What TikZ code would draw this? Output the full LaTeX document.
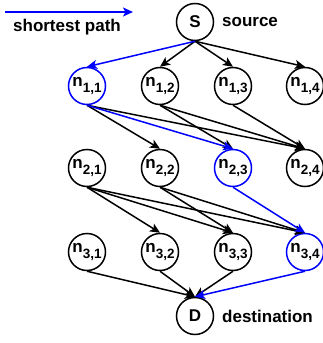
\documentclass[tikz,border=0pt]{standalone}
\usepackage{fontspec}
\setmainfont{Liberation Sans}
\usetikzlibrary{arrows.meta}
\definecolor{pathblue}{RGB}{0,0,255}
\newcommand{\nlab}[2]{n\raisebox{-0.3em}{\fontsize{13.5}{14}\selectfont #1,#2}}
\tikzset{
  vertex/.style={circle, draw, line width=1.5pt, minimum size=37pt, inner sep=0pt,
                 font=\fontsize{17}{20}\selectfont\bfseries},
  caption/.style={anchor=west, inner sep=0pt, font=\fontsize{17}{20}\selectfont\bfseries},
  edge/.style={line width=1.5pt, -{Stealth[length=10pt,width=9pt,inset=2.5pt]}},
  best/.style={edge, draw=pathblue},
}
\begin{document}
\begin{tikzpicture}[x=1pt,y=-1pt]
\useasboundingbox (0,0) rectangle (323,343);

% legend
\coordinate (legA) at (5,12);
\coordinate (legB) at (133,12);
\draw[best] (legA) -- (legB);
\node[font=\fontsize{17}{20}\selectfont\bfseries, inner sep=0pt] (legtext) at (67,27) {shortest path};

% source and destination
\node[vertex] (S) at (195,22) {S};
\node[caption] (srclab) at (222,22) {source};
\node[vertex] (D) at (195,316) {D};
\node[caption] (dstlab) at (222,316) {destination};

% three layers of intermediate nodes; nodes on the shortest path are outlined in blue
\foreach \r/\c/\x/\y/\col in {
  1/1/87/86/pathblue, 1/2/160/86/black, 1/3/233/86/black, 1/4/305/86/black,
  2/1/87/168/black, 2/2/160/168/black, 2/3/233/168/pathblue, 2/4/305/168/black,
  3/1/87/252/black, 3/2/160/252/black, 3/3/233/252/black, 3/4/305/252/pathblue}{
  \node[vertex, draw=\col] (n\r\c) at (\x,\y) {\nlab{\r}{\c}};
}

% source to first layer
\foreach \c in {2,3,4} \draw[edge] (S.south) -- (n1\c.north);
\draw[best] (S.south) -- (n11.north);

% first layer to second layer
\draw[edge] (n11.south) -- (n22.north);
\draw[edge] (n11.south) -- (n24.north);
\draw[edge] (n12.south) -- (n23.north);
\draw[edge] (n12.south) -- (n24.north);
\draw[edge] (n13.south) -- (n24.north);
\draw[best] (n11.south) -- (n23.north);

% second layer to third layer
\draw[edge] (n21.south) -- (n32.north);
\draw[edge] (n21.south) -- (n33.north);
\draw[edge] (n21.south) -- (n34.north);
\draw[edge] (n22.south) -- (n33.north);
\draw[edge] (n22.south) -- (n34.north);
\draw[best] (n23.south) -- (n34.north);

% third layer to destination
\foreach \c in {1,2,3} \draw[edge] (n3\c.south) -- (D.north);
\draw[best] (n34.south) -- (D.north);
\end{tikzpicture}
\end{document}
